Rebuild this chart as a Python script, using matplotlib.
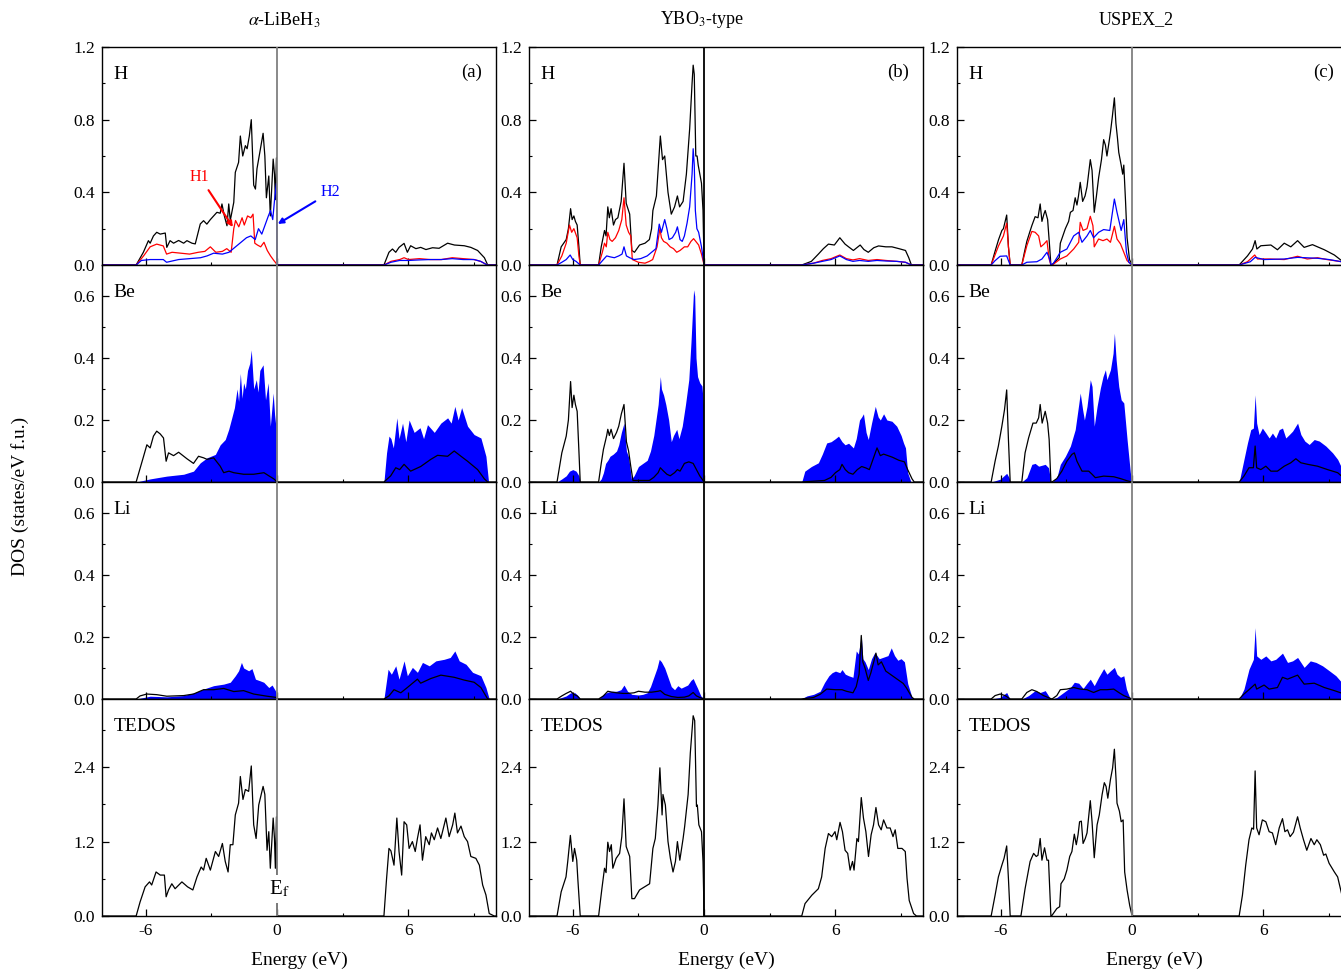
import numpy as np
import matplotlib
matplotlib.use('Agg')
import matplotlib.pyplot as plt
from matplotlib.ticker import MultipleLocator, FormatStrFormatter

plt.rcParams['font.family'] = ['Liberation Serif', 'DejaVu Serif']
plt.rcParams['mathtext.fontset'] = 'stix'
plt.rcParams['axes.unicode_minus'] = False

# (energy eV, DOS), per structure and projection
# --- alpha-LiBeH3 ---
a_ht = [(-8,0),(-6.44,0),(-6.11,0.07),(-5.88,0.134),(-5.80,0.12),(-5.65,0.16),(-5.50,0.18),(-5.34,0.17),(-5.11,0.176),(-5.04,0.097),(-4.89,0.134),(-4.73,0.12),(-4.50,0.135),(-4.27,0.12),(-4.12,0.134),(-3.89,0.12),(-3.74,0.116),(-3.51,0.226),(-3.36,0.244),(-3.21,0.225),(-3.05,0.25),(-2.90,0.27),(-2.75,0.29),(-2.60,0.285),(-2.52,0.336),(-2.41,0.27),(-2.29,0.216),(-2.21,0.336),(-2.14,0.245),(-1.98,0.345),(-1.91,0.51),(-1.76,0.565),(-1.68,0.71),(-1.57,0.6),(-1.45,0.657),(-1.37,0.64),(-1.27,0.71),(-1.18,0.80),(-1.07,0.44),(-0.99,0.418),(-0.92,0.53),(-0.79,0.62),(-0.64,0.725),(-0.56,0.6),(-0.49,0.37),(-0.38,0.49),(-0.31,0.27),(-0.18,0.583),(-0.12,0.5),(-0.08,0.36),(-0.03,0.59),(0,0),
        (4.88,0),(5.11,0.07),(5.27,0.088),(5.42,0.07),(5.57,0.097),(5.80,0.119),(5.95,0.07),(6.10,0.106),(6.34,0.09),(6.56,0.097),(6.8,0.085),(7.1,0.095),(7.4,0.092),(7.79,0.12),(8.1,0.11),(8.55,0.106),(8.85,0.097),(9.16,0.08),(9.47,0.04),(9.62,0),(10,0)]
a_h1 = [(-8,0),(-6.44,0),(-6.1,0.05),(-5.8,0.1),(-5.5,0.115),(-5.2,0.105),(-5.05,0.06),(-4.8,0.07),(-4.4,0.065),(-4.0,0.06),(-3.6,0.07),(-3.3,0.075),(-3.05,0.1),(-2.8,0.07),(-2.5,0.075),(-2.3,0.09),(-2.1,0.07),(-1.98,0.2),(-1.9,0.245),(-1.75,0.21),(-1.6,0.26),(-1.5,0.22),(-1.35,0.27),(-1.2,0.26),(-1.1,0.28),(-1.02,0.12),(-0.9,0.11),(-0.75,0.1),(-0.6,0.125),(-0.45,0.08),(-0.3,0.05),(-0.15,0.025),(-0.05,0.01),(0,0),
        (4.88,0),(5.2,0.02),(5.6,0.03),(5.8,0.04),(6.0,0.03),(6.5,0.035),(7.0,0.03),(7.5,0.03),(8.0,0.04),(8.5,0.035),(9.0,0.03),(9.3,0.02),(9.6,0),(10,0)]
a_h2 = [(-8,0),(-6.44,0),(-6.2,0.025),(-5.8,0.03),(-5.2,0.03),(-5.05,0.015),(-4.5,0.03),(-4.0,0.035),(-3.5,0.04),(-3.2,0.05),(-2.9,0.065),(-2.5,0.06),(-2.2,0.07),(-2.0,0.09),(-1.8,0.11),(-1.6,0.13),(-1.4,0.15),(-1.2,0.16),(-1.0,0.14),(-0.85,0.2),(-0.7,0.17),(-0.55,0.22),(-0.4,0.27),(-0.3,0.3),(-0.2,0.25),(-0.1,0.38),(-0.03,0.45),(0,0),
        (4.88,0),(5.2,0.015),(5.6,0.025),(6.0,0.025),(6.5,0.028),(7.0,0.03),(7.5,0.03),(8.0,0.035),(8.5,0.03),(9.0,0.03),(9.3,0.02),(9.6,0),(10,0)]
a_bes = [(-8,0),(-6.44,0),(-6.1,0.083),(-5.95,0.12),(-5.8,0.11),(-5.65,0.148),(-5.5,0.164),(-5.34,0.155),(-5.19,0.142),(-5.07,0.067),(-4.96,0.094),(-4.73,0.085),(-4.5,0.096),(-4.12,0.075),(-3.82,0.06),(-3.59,0.083),(-3.36,0.078),(-3.2,0.073),(-2.9,0.078),(-2.6,0.051),(-2.44,0.03),(-2.2,0.035),(-1.98,0.03),(-1.53,0.025),(-1.07,0.025),(-0.6,0.03),(-0.38,0.02),(-0.15,0.01),(0,0),
         (4.88,0),(5.19,0.02),(5.42,0.046),(5.6,0.04),(5.8,0.057),(6.1,0.035),(6.56,0.05),(7.02,0.073),(7.33,0.086),(7.79,0.083),(8.09,0.1),(8.4,0.083),(8.7,0.067),(9.16,0.04),(9.47,0.01),(9.62,0),(10,0)]
a_bep = [(-8,0),(-6.44,0),(-5.8,0.01),(-5.04,0.019),(-4.27,0.025),(-3.82,0.035),(-3.51,0.062),(-3.2,0.078),(-2.82,0.089),(-2.6,0.12),(-2.37,0.137),(-2.21,0.17),(-2.06,0.21),(-1.95,0.24),(-1.83,0.3),(-1.76,0.26),(-1.68,0.35),(-1.6,0.27),(-1.53,0.32),(-1.45,0.3),(-1.35,0.36),(-1.25,0.383),(-1.18,0.426),(-1.07,0.3),(-0.95,0.33),(-0.87,0.29),(-0.79,0.36),(-0.64,0.378),(-0.53,0.265),(-0.41,0.32),(-0.31,0.18),(-0.18,0.287),(-0.09,0.19),(-0.03,0.292),(0,0),
         (4.88,0),(5.0,0.094),(5.11,0.148),(5.2,0.14),(5.31,0.11),(5.47,0.207),(5.57,0.14),(5.73,0.19),(5.88,0.13),(6.03,0.2),(6.26,0.16),(6.53,0.175),(6.69,0.14),(6.87,0.185),(7.18,0.16),(7.48,0.19),(7.79,0.207),(7.95,0.19),(8.12,0.244),(8.27,0.2),(8.43,0.24),(8.7,0.18),(9.0,0.153),(9.31,0.142),(9.54,0.083),(9.66,0),(10,0)]
a_lis = [(-8,0),(-6.44,0),(-6.26,0.01),(-5.95,0.016),(-5.5,0.014),(-5.04,0.009),(-4.27,0.011),(-3.82,0.016),(-3.36,0.03),(-2.9,0.03),(-2.44,0.034),(-1.98,0.024),(-1.53,0.027),(-1.07,0.016),(-0.46,0.009),(-0.03,0.005),(0,0),
         (4.88,0),(5.11,0.01),(5.34,0.03),(5.65,0.02),(5.95,0.037),(6.41,0.064),(6.56,0.051),(7.02,0.066),(7.48,0.077),(8.09,0.07),(8.55,0.061),(9.0,0.054),(9.31,0.037),(9.62,0),(10,0)]
a_lip = [(-8,0),(-6.44,0),(-5.8,0.009),(-5.04,0.007),(-4.27,0.011),(-3.74,0.021),(-3.36,0.032),(-2.9,0.043),(-2.44,0.048),(-2.14,0.054),(-1.91,0.075),(-1.76,0.091),(-1.63,0.118),(-1.53,0.1),(-1.3,0.091),(-1.15,0.098),(-0.99,0.064),(-0.79,0.059),(-0.61,0.054),(-0.38,0.037),(-0.23,0.045),(-0.08,0.027),(0,0),
         (4.88,0),(5.07,0.096),(5.22,0.08),(5.42,0.107),(5.57,0.064),(5.8,0.123),(5.95,0.075),(6.18,0.102),(6.41,0.086),(6.64,0.118),(6.95,0.107),(7.25,0.123),(7.63,0.128),(7.91,0.134),(8.12,0.155),(8.32,0.123),(8.63,0.112),(8.93,0.086),(9.31,0.075),(9.54,0.037),(9.69,0),(10,0)]
a_tot = [(-8,0),(-6.44,0),(-6.26,0.227),(-6.03,0.47),(-5.83,0.55),(-5.73,0.5),(-5.53,0.71),(-5.34,0.66),(-5.15,0.66),(-5.07,0.31),(-4.96,0.42),(-4.81,0.52),(-4.66,0.44),(-4.35,0.55),(-4.09,0.47),(-3.85,0.42),(-3.66,0.63),(-3.47,0.79),(-3.36,0.74),(-3.24,0.93),(-3.05,0.74),(-2.82,1.04),(-2.67,0.96),(-2.5,1.17),(-2.37,0.88),(-2.24,0.71),(-2.14,1.15),(-2.02,1.15),(-1.91,1.63),(-1.76,1.82),(-1.68,2.25),(-1.56,1.88),(-1.45,2.04),(-1.3,2.01),(-1.18,2.42),(-1.07,1.47),(-0.96,1.25),(-0.84,1.79),(-0.64,2.09),(-0.56,1.96),(-0.46,1.06),(-0.38,1.36),(-0.31,0.77),(-0.18,1.58),(-0.12,1.25),(-0.08,0.77),(-0.03,1.6),(0,0),
         (4.88,0),(5.0,0.6),(5.11,1.09),(5.2,1.05),(5.34,0.82),(5.47,1.58),(5.57,1.04),(5.69,0.66),(5.8,1.52),(5.92,1.47),(6.03,1.09),(6.18,1.2),(6.31,1.04),(6.41,1.25),(6.53,1.47),(6.64,0.9),(6.79,1.28),(6.95,1.15),(7.05,1.34),(7.18,1.23),(7.33,1.42),(7.48,1.25),(7.71,1.58),(7.86,1.28),(8.02,1.47),(8.12,1.66),(8.24,1.34),(8.4,1.45),(8.55,1.28),(8.7,1.2),(8.85,0.96),(9.08,0.93),(9.24,0.82),(9.39,0.5),(9.54,0.34),(9.69,0.04),(9.92,0),(10,0)]

# --- YBO3-type ---
b_ht = [(-8,0),(-6.72,0),(-6.53,0.1),(-6.3,0.14),(-6.2,0.2),(-6.1,0.31),(-6.03,0.25),(-5.95,0.27),(-5.88,0.24),(-5.8,0.22),(-5.72,0.1),(-5.66,0),(-4.82,0),(-4.7,0.1),(-4.55,0.19),(-4.48,0.16),(-4.4,0.32),(-4.33,0.26),(-4.25,0.31),(-4.14,0.22),(-4.05,0.25),(-3.94,0.26),(-3.79,0.35),(-3.66,0.56),(-3.56,0.34),(-3.4,0.28),(-3.3,0.08),(-3.18,0.07),(-2.95,0.11),(-2.7,0.12),(-2.5,0.14),(-2.4,0.2),(-2.34,0.3),(-2.18,0.38),(-2.0,0.71),(-1.9,0.58),(-1.8,0.6),(-1.65,0.4),(-1.5,0.28),(-1.35,0.32),(-1.22,0.38),(-1.12,0.32),(-0.96,0.35),(-0.81,0.5),(-0.66,0.75),(-0.55,1.0),(-0.5,1.1),(-0.45,1.05),(-0.38,0.6),(-0.32,0.6),(-0.27,0.55),(-0.12,0.45),(-0.05,0.3),(0,0),
        (4.46,0),(4.9,0.02),(5.22,0.06),(5.45,0.09),(5.68,0.115),(5.95,0.11),(6.2,0.15),(6.44,0.115),(6.6,0.1),(6.82,0.08),(7.13,0.11),(7.3,0.085),(7.5,0.07),(7.75,0.095),(7.97,0.105),(8.3,0.1),(8.58,0.1),(8.9,0.09),(9.2,0.08),(9.35,0.04),(9.47,0),(10,0)]
b_h1 = [(-8,0),(-6.72,0),(-6.5,0.05),(-6.3,0.12),(-6.15,0.22),(-6.05,0.18),(-5.95,0.2),(-5.8,0.15),(-5.72,0.05),(-5.66,0),(-4.82,0),(-4.65,0.07),(-4.55,0.12),(-4.47,0.1),(-4.4,0.18),(-4.3,0.14),(-4.2,0.13),(-4.05,0.15),(-3.9,0.19),(-3.76,0.25),(-3.66,0.37),(-3.56,0.22),(-3.45,0.18),(-3.35,0.16),(-3.28,0.03),(-3.0,0.015),(-2.7,0.01),(-2.5,0.02),(-2.35,0.03),(-2.15,0.1),(-2.02,0.2),(-1.95,0.15),(-1.85,0.13),(-1.7,0.12),(-1.55,0.1),(-1.4,0.09),(-1.25,0.07),(-1.1,0.08),(-0.9,0.1),(-0.75,0.1),(-0.6,0.13),(-0.48,0.145),(-0.38,0.13),(-0.25,0.11),(-0.12,0.06),(0,0),
        (4.46,0),(5.0,0.01),(5.4,0.025),(5.8,0.035),(6.2,0.055),(6.5,0.035),(6.8,0.028),(7.1,0.035),(7.5,0.025),(7.9,0.03),(8.3,0.025),(8.8,0.02),(9.2,0.015),(9.47,0),(10,0)]
b_h2 = [(-8,0),(-6.72,0),(-6.5,0.015),(-6.3,0.03),(-6.12,0.055),(-6.0,0.03),(-5.85,0.02),(-5.66,0),(-4.82,0),(-4.6,0.03),(-4.45,0.05),(-4.3,0.045),(-4.1,0.04),(-3.9,0.05),(-3.75,0.06),(-3.66,0.1),(-3.55,0.05),(-3.4,0.04),(-3.2,0.03),(-2.9,0.035),(-2.6,0.05),(-2.4,0.07),(-2.2,0.09),(-2.05,0.225),(-1.95,0.18),(-1.8,0.25),(-1.7,0.2),(-1.6,0.14),(-1.45,0.15),(-1.3,0.18),(-1.22,0.21),(-1.1,0.14),(-1.0,0.13),(-0.9,0.16),(-0.78,0.23),(-0.66,0.32),(-0.55,0.5),(-0.5,0.64),(-0.45,0.55),(-0.4,0.3),(-0.33,0.2),(-0.25,0.18),(-0.12,0.1),(0,0),
        (4.46,0),(5.0,0.01),(5.4,0.02),(5.8,0.03),(6.2,0.05),(6.5,0.03),(6.8,0.02),(7.1,0.025),(7.5,0.02),(7.9,0.025),(8.3,0.022),(8.8,0.02),(9.2,0.015),(9.47,0),(10,0)]
b_bes = [(-8,0),(-6.72,0),(-6.5,0.094),(-6.3,0.148),(-6.2,0.2),(-6.1,0.324),(-6.03,0.24),(-5.95,0.28),(-5.88,0.25),(-5.8,0.228),(-5.72,0.1),(-5.66,0),(-4.82,0),(-4.7,0.06),(-4.6,0.105),(-4.45,0.15),(-4.4,0.17),(-4.33,0.15),(-4.25,0.17),(-4.14,0.14),(-4.0,0.16),(-3.9,0.18),(-3.78,0.22),(-3.66,0.25),(-3.55,0.13),(-3.45,0.1),(-3.35,0.05),(-3.25,0.005),(-2.5,0.005),(-2.3,0.015),(-2.1,0.03),(-2.0,0.046),(-1.85,0.035),(-1.7,0.025),(-1.55,0.02),(-1.35,0.03),(-1.22,0.04),(-1.1,0.035),(-0.9,0.06),(-0.7,0.065),(-0.5,0.06),(-0.35,0.04),(-0.2,0.02),(0,0),
         (4.46,0),(5.5,0.005),(5.8,0.015),(6.0,0.03),(6.2,0.04),(6.3,0.057),(6.45,0.04),(6.6,0.03),(6.8,0.025),(7.0,0.04),(7.2,0.05),(7.4,0.045),(7.55,0.04),(7.7,0.07),(7.9,0.11),(8.05,0.085),(8.2,0.09),(8.4,0.085),(8.6,0.08),(8.9,0.07),(9.15,0.065),(9.3,0.04),(9.5,0.01),(9.6,0),(10,0)]
b_bep = [(-8,0),(-6.72,0),(-6.5,0.01),(-6.3,0.02),(-6.15,0.035),(-6.0,0.04),(-5.85,0.035),(-5.72,0.02),(-5.66,0),(-4.82,0),(-4.7,0.01),(-4.6,0.03),(-4.5,0.06),(-4.4,0.07),(-4.3,0.083),(-4.15,0.09),(-4.0,0.1),(-3.9,0.12),(-3.78,0.16),(-3.66,0.19),(-3.55,0.1),(-3.45,0.08),(-3.32,0.01),(-3.2,0.02),(-3.0,0.05),(-2.8,0.06),(-2.6,0.07),(-2.45,0.1),(-2.3,0.15),(-2.2,0.2),(-2.1,0.25),(-2.0,0.34),(-1.95,0.3),(-1.85,0.28),(-1.75,0.25),(-1.62,0.2),(-1.5,0.13),(-1.4,0.15),(-1.25,0.17),(-1.15,0.14),(-1.0,0.18),(-0.85,0.25),(-0.7,0.33),(-0.6,0.45),(-0.53,0.55),(-0.48,0.62),(-0.43,0.6),(-0.37,0.4),(-0.3,0.34),(-0.2,0.32),(-0.1,0.31),(-0.03,0.25),(0,0),
         (4.46,0),(4.6,0.035),(4.9,0.05),(5.22,0.062),(5.4,0.09),(5.6,0.126),(5.8,0.13),(6.0,0.14),(6.14,0.148),(6.3,0.13),(6.44,0.12),(6.6,0.125),(6.82,0.11),(6.95,0.14),(7.1,0.2),(7.2,0.21),(7.28,0.22),(7.4,0.16),(7.5,0.137),(7.65,0.19),(7.82,0.244),(7.95,0.21),(8.05,0.2),(8.2,0.22),(8.35,0.2),(8.58,0.196),(8.8,0.18),(9.0,0.15),(9.11,0.126),(9.2,0.11),(9.3,0.03),(9.45,0),(10,0)]
b_lis = [(-8,0),(-6.72,0),(-6.5,0.01),(-6.3,0.018),(-6.1,0.025),(-5.95,0.015),(-5.8,0.01),(-5.66,0),(-4.82,0),(-4.6,0.01),(-4.4,0.025),(-4.2,0.022),(-4.0,0.02),(-3.7,0.018),(-3.5,0.018),(-3.2,0.02),(-3.0,0.025),(-2.7,0.022),(-2.4,0.022),(-2.1,0.025),(-2.0,0.027),(-1.8,0.015),(-1.5,0.008),(-1.2,0.005),(-0.9,0.006),(-0.7,0.01),(-0.5,0.021),(-0.35,0.01),(-0.2,0.005),(0,0),
         (4.43,0),(5.0,0.005),(5.3,0.015),(5.6,0.032),(6.0,0.03),(6.3,0.03),(6.5,0.025),(6.8,0.02),(6.95,0.04),(7.08,0.08),(7.18,0.205),(7.25,0.12),(7.35,0.1),(7.5,0.06),(7.62,0.085),(7.75,0.12),(7.85,0.148),(7.95,0.11),(8.1,0.12),(8.3,0.09),(8.6,0.075),(8.9,0.06),(9.1,0.05),(9.25,0.035),(9.5,0.005),(9.6,0),(10,0)]
b_lip = [(-8,0),(-6.72,0),(-6.5,0.005),(-6.3,0.01),(-6.1,0.02),(-5.9,0.02),(-5.75,0.01),(-5.66,0),(-4.82,0),(-4.6,0.015),(-4.4,0.022),(-4.2,0.025),(-4.0,0.025),(-3.8,0.03),(-3.66,0.045),(-3.5,0.025),(-3.3,0.015),(-3.0,0.013),(-2.8,0.015),(-2.6,0.02),(-2.45,0.04),(-2.3,0.07),(-2.15,0.1),(-2.05,0.128),(-1.95,0.12),(-1.8,0.1),(-1.65,0.07),(-1.5,0.04),(-1.35,0.03),(-1.2,0.043),(-1.05,0.035),(-0.9,0.04),(-0.75,0.045),(-0.6,0.06),(-0.5,0.066),(-0.4,0.05),(-0.3,0.035),(-0.15,0.01),(0,0),
         (4.43,0),(4.7,0.01),(5.0,0.015),(5.3,0.025),(5.5,0.053),(5.7,0.075),(5.85,0.085),(6.0,0.09),(6.2,0.085),(6.3,0.095),(6.45,0.08),(6.6,0.075),(6.8,0.07),(6.95,0.155),(7.05,0.145),(7.18,0.205),(7.25,0.13),(7.35,0.12),(7.5,0.095),(7.65,0.13),(7.8,0.15),(8.0,0.13),(8.2,0.135),(8.4,0.14),(8.55,0.165),(8.7,0.14),(8.85,0.125),(9.0,0.13),(9.15,0.12),(9.3,0.05),(9.5,0.005),(9.6,0),(10,0)]
b_tot = [(-8,0),(-6.72,0),(-6.53,0.39),(-6.31,0.63),(-6.23,0.88),(-6.11,1.3),(-6.0,0.88),(-5.92,1.09),(-5.82,0.9),(-5.77,0.6),(-5.66,0),(-4.82,0),(-4.67,0.44),(-4.55,0.77),(-4.48,0.7),(-4.4,1.19),(-4.32,1.04),(-4.24,1.15),(-4.17,0.77),(-4.02,0.93),(-3.86,1.01),(-3.76,1.28),(-3.66,1.89),(-3.56,1.12),(-3.4,0.96),(-3.3,0.28),(-3.18,0.28),(-2.95,0.42),(-2.72,0.47),(-2.49,0.52),(-2.34,1.09),(-2.23,1.25),(-2.11,1.79),(-2.02,2.39),(-1.92,1.63),(-1.88,1.96),(-1.77,1.79),(-1.65,1.2),(-1.54,0.93),(-1.42,0.71),(-1.31,0.88),(-1.22,1.2),(-1.11,0.9),(-0.96,1.25),(-0.89,1.44),(-0.73,1.96),(-0.63,2.63),(-0.5,3.23),(-0.43,3.15),(-0.35,1.77),(-0.31,1.79),(-0.24,1.47),(-0.12,1.36),(-0.05,0.88),(0,0),
         (4.46,0),(4.61,0.2),(4.92,0.335),(5.22,0.44),(5.37,0.63),(5.53,1.09),(5.68,1.33),(5.83,1.28),(5.98,1.36),(6.06,1.23),(6.21,1.51),(6.32,1.36),(6.44,1.06),(6.56,1.01),(6.67,0.74),(6.78,0.88),(6.85,0.74),(6.98,1.25),(7.05,1.2),(7.18,1.91),(7.28,1.58),(7.39,1.36),(7.51,0.96),(7.63,1.31),(7.74,1.47),(7.85,1.75),(7.97,1.47),(8.09,1.39),(8.2,1.55),(8.35,1.42),(8.5,1.42),(8.63,1.28),(8.73,1.39),(8.85,1.09),(9.04,1.09),(9.19,1.04),(9.27,0.61),(9.37,0.25),(9.57,0.04),(9.7,0),(10,0)]

# --- USPEX_2 ---
c_ht = [(-8,0),(-6.44,0),(-6.25,0.08),(-6.1,0.14),(-5.95,0.19),(-5.88,0.2),(-5.73,0.275),(-5.65,0.1),(-5.57,0),(-5.04,0),(-4.92,0.07),(-4.81,0.13),(-4.68,0.18),(-4.58,0.217),(-4.43,0.266),(-4.3,0.26),(-4.2,0.336),(-4.12,0.24),(-4.03,0.28),(-3.97,0.3),(-3.86,0.25),(-3.78,0.12),(-3.71,0),(-3.66,0),(-3.5,0.02),(-3.33,0.04),(-3.28,0.12),(-3.05,0.2),(-2.9,0.24),(-2.82,0.29),(-2.7,0.3),(-2.6,0.37),(-2.52,0.33),(-2.45,0.38),(-2.37,0.455),(-2.26,0.35),(-2.15,0.38),(-2.06,0.43),(-1.91,0.58),(-1.83,0.52),(-1.73,0.29),(-1.63,0.38),(-1.53,0.48),(-1.4,0.58),(-1.3,0.69),(-1.22,0.66),(-1.15,0.6),(-1.05,0.68),(-0.99,0.73),(-0.9,0.82),(-0.81,0.92),(-0.74,0.78),(-0.67,0.7),(-0.61,0.62),(-0.5,0.55),(-0.43,0.5),(-0.38,0.55),(-0.3,0.35),(-0.23,0.15),(-0.12,0.03),(0,0),
        (4.89,0),(5.27,0.05),(5.5,0.088),(5.62,0.134),(5.7,0.088),(5.88,0.106),(6.34,0.11),(6.64,0.084),(6.95,0.12),(7.25,0.1),(7.56,0.134),(7.86,0.097),(8.24,0.112),(8.47,0.1),(8.78,0.084),(9.24,0.055),(9.57,0.024),(10,0.01)]
c_h1 = [(-8,0),(-6.44,0),(-6.1,0.106),(-5.88,0.16),(-5.73,0.23),(-5.65,0.1),(-5.57,0),(-5.04,0),(-4.81,0.106),(-4.58,0.185),(-4.43,0.18),(-4.27,0.16),(-4.17,0.1),(-4.02,0.116),(-3.89,0.134),(-3.79,0.033),(-3.71,0),(-3.59,0.005),(-3.28,0.033),(-2.98,0.05),(-2.67,0.088),(-2.44,0.125),(-2.37,0.235),(-2.24,0.19),(-2.06,0.2),(-1.91,0.268),(-1.79,0.216),(-1.73,0.1),(-1.53,0.143),(-1.33,0.134),(-1.15,0.143),(-0.99,0.125),(-0.81,0.213),(-0.69,0.143),(-0.53,0.116),(-0.38,0.07),(-0.23,0.024),(0,0),
        (4.89,0),(5.27,0.018),(5.6,0.055),(5.73,0.033),(6.3,0.033),(6.95,0.03),(7.56,0.048),(8.0,0.033),(8.47,0.04),(8.9,0.03),(9.57,0.018),(10,0.01)]
c_h2 = [(-8,0),(-6.44,0),(-6.26,0.024),(-6.03,0.048),(-5.73,0.05),(-5.62,0.015),(-5.57,0),(-5.04,0),(-4.81,0.015),(-4.35,0.018),(-4.12,0.033),(-3.89,0.07),(-3.77,0.033),(-3.71,0),(-3.59,0.01),(-3.28,0.07),(-2.98,0.088),(-2.67,0.16),(-2.44,0.18),(-2.29,0.125),(-2.06,0.16),(-1.91,0.19),(-1.76,0.15),(-1.53,0.18),(-1.3,0.195),(-1.02,0.19),(-0.81,0.363),(-0.69,0.29),(-0.5,0.19),(-0.38,0.25),(-0.26,0.07),(-0.15,0.015),(0,0),
        (4.89,0),(5.4,0.018),(5.62,0.042),(6.03,0.03),(6.95,0.033),(7.56,0.042),(8.47,0.037),(9.0,0.03),(9.57,0.018),(10,0.01)]
c_bes = [(-8,0),(-6.44,0),(-6.26,0.067),(-6.11,0.116),(-5.95,0.18),(-5.83,0.233),(-5.73,0.297),(-5.65,0.137),(-5.57,0),(-5.04,0),(-4.89,0.094),(-4.73,0.142),(-4.53,0.19),(-4.38,0.19),(-4.27,0.207),(-4.2,0.25),(-4.11,0.19),(-3.97,0.228),(-3.86,0.19),(-3.79,0.137),(-3.71,0),(-3.66,0),(-3.44,0.011),(-3.21,0.035),(-2.98,0.067),(-2.75,0.089),(-2.64,0.094),(-2.52,0.067),(-2.29,0.035),(-1.98,0.035),(-1.83,0.025),(-1.68,0.014),(-1.3,0.019),(-0.84,0.017),(-0.53,0.011),(-0.23,0.004),(0,0),
         (4.89,0),(5.11,0.019),(5.34,0.046),(5.54,0.046),(5.62,0.116),(5.69,0.046),(5.88,0.04),(6.11,0.051),(6.34,0.035),(6.64,0.035),(6.95,0.051),(7.25,0.062),(7.48,0.075),(7.71,0.062),(8.02,0.057),(8.47,0.051),(8.93,0.04),(9.39,0.03),(9.57,0.019),(10,0.01)]
c_bep = [(-8,0),(-6.44,0),(-6.03,0.009),(-5.73,0.028),(-5.62,0.014),(-5.57,0),(-5.04,0),(-4.81,0.014),(-4.58,0.057),(-4.43,0.06),(-4.27,0.051),(-4.12,0.054),(-3.97,0.057),(-3.82,0.046),(-3.71,0),(-3.66,0),(-3.44,0.014),(-3.28,0.057),(-3.05,0.083),(-2.82,0.116),(-2.6,0.169),(-2.44,0.25),(-2.37,0.287),(-2.26,0.233),(-2.18,0.2),(-2.06,0.244),(-1.91,0.33),(-1.83,0.308),(-1.73,0.18),(-1.6,0.244),(-1.45,0.303),(-1.33,0.34),(-1.22,0.362),(-1.15,0.33),(-0.99,0.362),(-0.87,0.415),(-0.81,0.48),(-0.73,0.394),(-0.61,0.308),(-0.5,0.265),(-0.38,0.255),(-0.23,0.137),(-0.08,0.03),(0,0),
         (4.89,0),(5.11,0.073),(5.27,0.126),(5.42,0.169),(5.54,0.174),(5.62,0.281),(5.69,0.19),(5.8,0.153),(5.95,0.174),(6.11,0.158),(6.26,0.142),(6.41,0.158),(6.56,0.142),(6.72,0.169),(6.87,0.174),(7.02,0.142),(7.18,0.153),(7.33,0.164),(7.56,0.19),(7.71,0.153),(7.89,0.132),(8.09,0.121),(8.32,0.137),(8.55,0.132),(8.85,0.116),(9.16,0.094),(9.39,0.073),(9.57,0.046),(10,0.02)]
c_lis = [(-8,0),(-6.44,0),(-6.26,0.011),(-6.03,0.016),(-5.8,0.011),(-5.57,0),(-5.04,0),(-4.81,0.021),(-4.58,0.03),(-4.35,0.024),(-4.05,0.011),(-3.74,0.002),(-3.66,0),(-3.44,0.011),(-3.28,0.03),(-2.98,0.032),(-2.67,0.037),(-2.37,0.032),(-2.06,0.03),(-1.76,0.021),(-1.45,0.03),(-1.15,0.03),(-0.84,0.032),(-0.61,0.021),(-0.38,0.011),(0,0),
         (4.89,0),(5.11,0.016),(5.34,0.03),(5.62,0.048),(5.69,0.032),(6.03,0.045),(6.26,0.032),(6.64,0.037),(6.87,0.07),(7.1,0.064),(7.56,0.077),(7.86,0.048),(8.32,0.051),(8.78,0.037),(9.24,0.027),(9.57,0.019),(10,0.01)]
c_lip = [(-8,0),(-6.44,0),(-6.03,0.005),(-5.73,0.021),(-5.62,0.005),(-5.57,0),(-5.04,0),(-4.73,0.011),(-4.43,0.027),(-4.2,0.021),(-3.97,0.027),(-3.77,0.005),(-3.71,0),(-3.66,0),(-3.44,0.005),(-3.13,0.021),(-2.82,0.037),(-2.64,0.054),(-2.44,0.051),(-2.24,0.034),(-2.06,0.051),(-1.91,0.064),(-1.73,0.043),(-1.53,0.07),(-1.3,0.098),(-1.15,0.08),(-0.99,0.091),(-0.81,0.102),(-0.69,0.08),(-0.53,0.07),(-0.38,0.075),(-0.26,0.032),(-0.11,0.005),(0,0),
         (4.89,0),(5.11,0.032),(5.34,0.096),(5.54,0.128),(5.62,0.23),(5.69,0.139),(5.88,0.128),(6.11,0.139),(6.34,0.123),(6.56,0.128),(6.87,0.148),(7.1,0.118),(7.33,0.123),(7.56,0.134),(7.86,0.102),(8.14,0.123),(8.4,0.118),(8.7,0.107),(9.01,0.091),(9.31,0.075),(9.57,0.054),(10,0.03)]
c_tot = [(-8,0),(-6.44,0),(-6.26,0.335),(-6.11,0.63),(-5.95,0.82),(-5.85,0.93),(-5.73,1.13),(-5.65,0.6),(-5.57,0),(-5.08,0),(-4.89,0.44),(-4.66,0.88),(-4.5,1.01),(-4.38,0.96),(-4.3,0.98),(-4.2,1.25),(-4.12,0.9),(-4.0,1.1),(-3.89,0.9),(-3.82,0.9),(-3.71,0),(-3.66,0.01),(-3.44,0.12),(-3.31,0.15),(-3.25,0.52),(-3.1,0.6),(-2.98,0.74),(-2.85,0.96),(-2.75,1.04),(-2.64,1.32),(-2.55,1.15),(-2.47,1.31),(-2.4,1.52),(-2.32,1.53),(-2.24,1.17),(-2.14,1.25),(-2.06,1.34),(-1.91,1.86),(-1.83,1.52),(-1.73,0.94),(-1.6,1.47),(-1.5,1.63),(-1.37,1.96),(-1.27,2.15),(-1.19,2.09),(-1.11,1.9),(-0.99,2.2),(-0.89,2.39),(-0.81,2.69),(-0.73,2.18),(-0.69,1.82),(-0.58,1.69),(-0.5,1.52),(-0.41,1.55),(-0.34,0.71),(-0.23,0.42),(-0.11,0.17),(0,0),
         (4.89,0),(5.04,0.335),(5.19,0.82),(5.34,1.23),(5.47,1.42),(5.55,1.4),(5.62,2.34),(5.69,1.42),(5.8,1.31),(5.95,1.55),(6.11,1.52),(6.26,1.36),(6.41,1.34),(6.56,1.15),(6.72,1.42),(6.87,1.57),(6.98,1.36),(7.1,1.39),(7.22,1.28),(7.37,1.35),(7.56,1.6),(7.68,1.42),(7.83,1.23),(7.98,1.06),(8.17,1.25),(8.32,1.15),(8.44,1.23),(8.6,1.15),(8.75,0.98),(8.85,1.0),(9.0,0.85),(9.24,0.71),(9.39,0.63),(9.57,0.36),(10,0.1)]

titles = [r'$\alpha$-LiBeH$_3$', r'YBO$_3$-type', 'USPEX_2']
tags = ['(a)', '(b)', '(c)']
row_names = ['H', 'Be', 'Li', 'TEDOS']
cols = [(a_ht, a_h1, a_h2, a_bes, a_bep, a_lis, a_lip, a_tot),
        (b_ht, b_h1, b_h2, b_bes, b_bep, b_lis, b_lip, b_tot),
        (c_ht, c_h1, c_h2, c_bes, c_bep, c_lis, c_lip, c_tot)]


def xy(pts):
    arr = np.array(pts, dtype=float)
    return arr[:, 0], arr[:, 1]


W, H = 1341, 971
fig = plt.figure(figsize=(W / 100, H / 100), dpi=100)
lefts = [102, 529, 957]
tops = [47, 265, 482, 699, 916]
ytop = [1.2, 0.7, 0.7, 3.5]
ymaj = [0.4, 0.2, 0.2, 1.2]
ymin = [0.2, 0.1, 0.1, 0.6]
fermi_col = ['#808080', 'black', '#808080']
title_x = [284, 702, 1136]

for ci, (ht, h1, h2, bes, bep, lis, lip, tot) in enumerate(cols):
    axs = []
    for ri in range(4):
        ax = fig.add_axes([lefts[ci] / W, 1 - tops[ri + 1] / H, 394 / W,
                           (tops[ri + 1] - tops[ri]) / H])
        ax.set_xlim(-8, 10)
        ax.set_ylim(0, ytop[ri])
        ax.xaxis.set_major_locator(MultipleLocator(6))
        ax.xaxis.set_minor_locator(MultipleLocator(3))
        ax.yaxis.set_major_locator(MultipleLocator(ymaj[ri]))
        ax.yaxis.set_minor_locator(MultipleLocator(ymin[ri]))
        ax.yaxis.set_major_formatter(FormatStrFormatter('%.1f'))
        ax.tick_params(which='both', direction='in', top=False, right=False,
                       labelsize=12.5, pad=5)
        ax.tick_params(which='major', length=5, width=0.9)
        ax.tick_params(which='minor', length=2.5, width=0.8)
        if ri < 3:
            ax.tick_params(labelbottom=False)
        for sp in ax.spines.values():
            sp.set_linewidth(1.0)
        ax.axvline(0, color=fermi_col[ci], lw=1.3, zorder=3)
        ax.text(0.03, 0.875, row_names[ri], transform=ax.transAxes,
                fontsize=14, ha='left', va='center')
        axs.append(ax)

    ax = axs[0]
    for s, c in ((ht, 'black'), (h1, '#ff0000'), (h2, '#0000ff')):
        e, v = xy(s)
        ax.plot(e, v, color=c, lw=0.9)
    ax.text(0.965 if ci < 2 else 0.957, 0.885, tags[ci], transform=ax.transAxes,
            fontsize=13.5, ha='right', va='center')

    for ax, s_s, s_p in ((axs[1], bes, bep), (axs[2], lis, lip)):
        e, v = xy(s_p)
        ax.fill_between(e, v, 0, color='#0000ff', lw=0, zorder=1)
        e, v = xy(s_s)
        ax.plot(e, v, color='black', lw=0.9, zorder=2)

    e, v = xy(tot)
    axs[3].plot(e, v, color='black', lw=0.9)

    fig.text(title_x[ci] / W, 1 - 20 / H, titles[ci], fontsize=13,
             ha='center', va='center')
    fig.text((lefts[ci] + 197) / W, 1 - 960 / H, 'Energy (eV)', fontsize=14,
             ha='center', va='center')

    if ci == 0:
        axs[0].annotate('H1', xy=(-2.02, 0.209), xytext=(-3.53, 0.484),
                        color='#ff0000', fontsize=11.5, ha='center', va='center',
                        arrowprops=dict(arrowstyle='-|>', color='#ff0000', lw=1.5,
                                        mutation_scale=8, shrinkA=2, shrinkB=0))
        axs[0].annotate('H2', xy=(0.03, 0.226), xytext=(2.43, 0.40),
                        color='#0000ff', fontsize=11.5, ha='center', va='center',
                        arrowprops=dict(arrowstyle='-|>', color='#0000ff', lw=1.5,
                                        mutation_scale=8, shrinkA=2, shrinkB=0))
        axs[3].text(0.1, 0.43, r'E$_\mathrm{f}$', fontsize=15, ha='center',
                    va='center', zorder=6,
                    bbox=dict(fc='white', ec='none', pad=2.5))

fig.text(20 / W, 1 - 496 / H, 'DOS (states/eV f.u.)', rotation=90,
         fontsize=14, ha='center', va='center')

fig.savefig('out.png', dpi=100)
